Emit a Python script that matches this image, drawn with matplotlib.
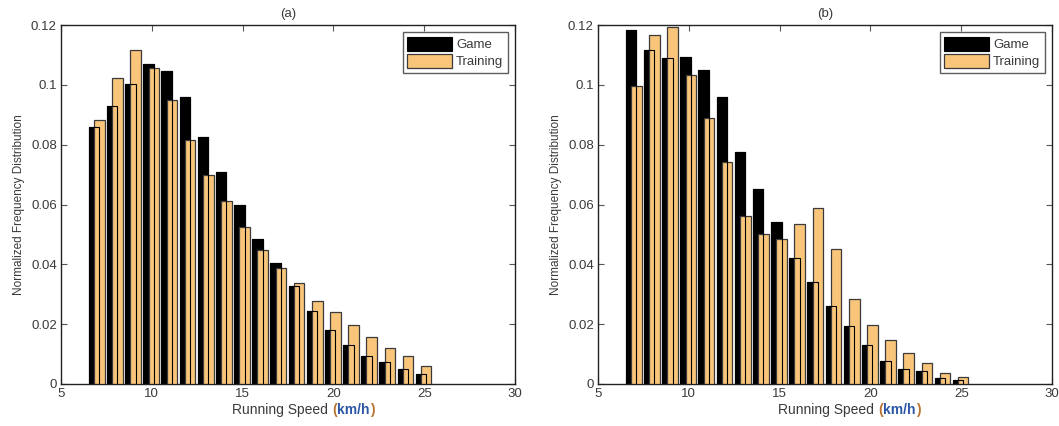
import matplotlib
matplotlib.use("Agg")
import matplotlib.pyplot as plt
import numpy as np

speeds = list(range(7, 26))
game_a = [0.0859, 0.0929, 0.1002, 0.1069, 0.1045, 0.0961, 0.0825, 0.0708, 0.0599, 0.0486,
          0.0406, 0.0326, 0.0244, 0.0181, 0.0132, 0.0094, 0.0072, 0.0051, 0.0033]
train_a = [0.0883, 0.1024, 0.1117, 0.1055, 0.0950, 0.0815, 0.0697, 0.0612, 0.0525, 0.0447,
           0.0388, 0.0339, 0.0279, 0.0240, 0.0198, 0.0156, 0.0120, 0.0093, 0.0061]
game_b = [0.1182, 0.1115, 0.1090, 0.1094, 0.1048, 0.0958, 0.0775, 0.0651, 0.0543, 0.0420,
          0.0342, 0.0262, 0.0195, 0.0132, 0.0076, 0.0051, 0.0045, 0.0019, 0.0012]
train_b = [0.0995, 0.1167, 0.1192, 0.1034, 0.0888, 0.0742, 0.0562, 0.0503, 0.0486, 0.0535,
           0.0588, 0.0452, 0.0285, 0.0198, 0.0148, 0.0104, 0.0069, 0.0037, 0.0025]
titles = ["(a)", "(b)"]
series_names = ["Game", "Training"]
xticks = [5, 10, 15, 20, 25, 30]
yticks = [0, 0.02, 0.04, 0.06, 0.08, 0.1, 0.12]
ytick_labels = ["0", "0.02", "0.04", "0.06", "0.08", "0.1", "0.12"]

plt.rcParams['font.family'] = ['Liberation Sans', 'DejaVu Sans']

W, H = 1059, 426
fig = plt.figure(figsize=(W / 100, H / 100), dpi=100)
fig.patch.set_facecolor('white')

ORANGE = '#f9c57b'
TXT = '#3a3a3a'


def px_axes(l, t, r, b):
    return fig.add_axes([l / W, 1 - b / H, (r - l) / W, (b - t) / H])


panels = [
    (px_axes(61, 25, 515, 384), game_a, train_a, titles[0], 232),
    (px_axes(598, 25, 1052, 384), game_b, train_b, titles[1], 778),
]

x = np.array(speeds, dtype=float)
width = 0.58
for ax, g, t, title, xl in panels:
    ax.bar(x - 0.18, g, width=width, color='black', edgecolor='black', linewidth=0.8,
           label=series_names[0], zorder=2)
    ax.bar(x + 0.11, t, width=width, color=ORANGE, edgecolor='#3a3a3a', linewidth=0.9,
           label=series_names[1], zorder=3)
    ax.bar(x - 0.18, g, width=width, fill=False, edgecolor='black', linewidth=0.8, zorder=4)
    ax.set_xlim(5, 30)
    ax.set_ylim(0, 0.12)
    ax.set_xticks(xticks)
    ax.set_yticks(yticks)
    ax.set_yticklabels(ytick_labels)
    ax.tick_params(direction='in', top=True, right=True, length=4, width=0.8,
                   colors='#555555', labelcolor=TXT, labelsize=9.5, pad=3)
    for s in ax.spines.values():
        s.set_linewidth(1.0)
        s.set_color('#222222')
    ax.set_title(title, fontsize=9.5, color=TXT, pad=6)
    ax.set_ylabel("Normalized Frequency Distribution", fontsize=8.5, color=TXT, labelpad=4)
    leg = ax.legend(loc='upper right', bbox_to_anchor=(0.9846, 0.9805), borderaxespad=0,
                    fontsize=9.5, frameon=True, fancybox=False, edgecolor='#333333',
                    handlelength=3.4, handleheight=1.3, handletextpad=0.3, labelspacing=0.2,
                    borderpad=0.35, labelcolor=TXT)
    leg.get_frame().set_linewidth(1.0)
    # x label pieces
    ypos = 1 - 414 / H
    fs = 10
    t1 = fig.text(xl / W, ypos, "Running Speed", fontsize=fs, color=TXT, ha='left', va='baseline')
    fig.canvas.draw()
    bb = t1.get_window_extent()
    t2 = fig.text((bb.x1 + 4) / W, ypos, "(", fontsize=fs, color='#b8732e', ha='left', va='baseline', fontweight='bold')
    bb = t2.get_window_extent()
    t3 = fig.text((bb.x1 + 0.5) / W, ypos, "km/h", fontsize=fs, color='#2a55a5', ha='left', va='baseline', fontweight='bold')
    bb = t3.get_window_extent()
    fig.text((bb.x1 + 0.5) / W, ypos, ")", fontsize=fs, color='#b8732e', ha='left', va='baseline', fontweight='bold')

fig.savefig("out.png", dpi=100, facecolor='white')
